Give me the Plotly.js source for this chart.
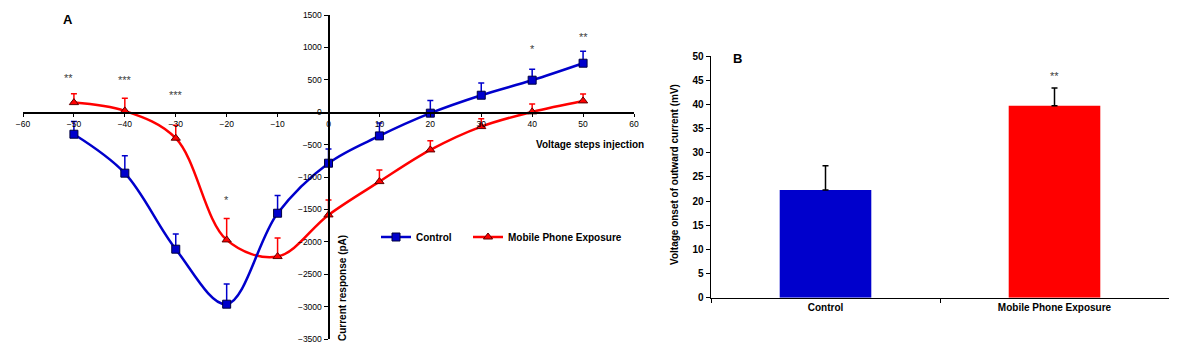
<!DOCTYPE html>
<html>
<head>
<meta charset="utf-8">
<script src="https://cdn.plot.ly/plotly-3.0.1.min.js"></script>
<style>html,body{margin:0;padding:0;background:#fff;}#chart{width:1200px;height:362px;}</style>
</head>
<body>
<div id="chart"></div>
<script>
// ---- Panel A data ----
const voltages = [-50, -40, -30, -20, -10, 0, 10, 20, 30, 40, 50];
const controlCurrent = [-340, -941, -2114, -2963, -1559, -787, -366, -15, 262, 494, 756];
const controlErr = [195, 270, 236, 310, 272, 220, 200, 195, 190, 170, 185];
const mobileCurrent = [148, 20, -401, -1971, -2228, -1585, -1071, -582, -222, 5, 174];
const mobileErr = [135, 195, 200, 330, 285, 230, 180, 140, 120, 120, 105];
const starVoltages = [-51, -40, -30, -20, 40, 50];
const starLabels = ['**', '***', '***', '*', '*', '**'];
const starHeights = [560, 530, 300, -1330, 1010, 1190];

// ---- Panel B data ----
const groups = ['Control', 'Mobile Phone Exposure'];
const onsetVoltage = [22.3, 39.7];
const onsetErr = [5.0, 3.7];
const onsetStars = ['', '**'];
const onsetStarHeights = [0, 46.2];

const BLUE = '#0000cc';
const RED = '#ff0000';
const FONT = 'Liberation Sans, Arial, sans-serif';
const zeros = voltages.map(() => 0);

const traces = [
  {
    x: voltages, y: mobileCurrent, name: 'Mobile Phone Exposure', type: 'scatter', mode: 'lines+markers',
    xaxis: 'x', yaxis: 'y', legend: 'legend2',
    line: {color: RED, width: 2.5, shape: 'spline', smoothing: 1},
    marker: {symbol: 'triangle-up', size: 8, color: RED, line: {color: '#600000', width: 1}},
    error_y: {type: 'data', symmetric: false, array: mobileErr, arrayminus: zeros,
              color: RED, thickness: 1.5, width: 3}
  },
  {
    x: voltages, y: controlCurrent, name: 'Control', type: 'scatter', mode: 'lines+markers',
    xaxis: 'x', yaxis: 'y', legend: 'legend',
    line: {color: BLUE, width: 2.5, shape: 'spline', smoothing: 1},
    marker: {symbol: 'square', size: 8, color: BLUE, line: {color: '#000040', width: 1}},
    error_y: {type: 'data', symmetric: false, array: controlErr, arrayminus: zeros,
              color: BLUE, thickness: 1.5, width: 3}
  },
  {
    x: groups, y: onsetVoltage, type: 'bar', xaxis: 'x2', yaxis: 'y2', showlegend: false,
    marker: {color: [BLUE, RED], line: {width: 0}},
    error_y: {type: 'data', symmetric: false, array: onsetErr, arrayminus: [0, 0],
              color: '#000000', thickness: 1.5, width: 3}
  }
];

const annotations = [];
starVoltages.forEach((v, i) => {
  annotations.push({x: v, y: starHeights[i], xref: 'x', yref: 'y', text: starLabels[i],
    showarrow: false, yshift: -2, font: {family: FONT, size: 11, color: '#404040'}});
});
groups.forEach((g, i) => {
  if (onsetStars[i]) annotations.push({x: g, y: onsetStarHeights[i], xref: 'x2', yref: 'y2',
    text: onsetStars[i], showarrow: false, yshift: -2, font: {family: FONT, size: 11, color: '#404040'}});
});
annotations.push(
  {text: '<b>A</b>', xref: 'paper', yref: 'paper', x: 68 / 1200, y: 1 - 20 / 362,
   xanchor: 'center', yanchor: 'middle', showarrow: false, font: {family: FONT, size: 13, color: '#000'}},
  {text: '<b>B</b>', xref: 'paper', yref: 'paper', x: 737 / 1200, y: 1 - 59 / 362,
   xanchor: 'center', yanchor: 'middle', showarrow: false, font: {family: FONT, size: 13, color: '#000'}},
  {text: '<b>Voltage steps injection</b>', xref: 'paper', yref: 'paper', x: 646 / 1200, y: 1 - 144 / 362,
   xanchor: 'right', yanchor: 'middle', showarrow: false, font: {family: FONT, size: 10, color: '#000'}},
  {text: '<b>Current response (pA)</b>', xref: 'paper', yref: 'paper', x: 342 / 1200, y: 1 - 288 / 362,
   xanchor: 'center', yanchor: 'middle', textangle: -90, showarrow: false, font: {family: FONT, size: 10, color: '#000'}},
  {text: '<b>Voltage onset of outward current (mV)</b>', xref: 'paper', yref: 'paper', x: 675 / 1200, y: 1 - 175 / 362,
   xanchor: 'center', yanchor: 'middle', textangle: -90, showarrow: false, font: {family: FONT, size: 10, color: '#000'}}
);

const legendFont = {family: FONT, size: 10, color: '#000', weight: 'bold'};
const layout = {
  width: 1200, height: 362,
  margin: {l: 0, r: 0, t: 0, b: 0},
  paper_bgcolor: '#ffffff', plot_bgcolor: 'rgba(0,0,0,0)',
  font: {family: FONT, color: '#000'},
  showlegend: true,
  bargap: 0.6,
  legend: {orientation: 'h', x: 376 / 1200, y: 1 - 237 / 362, xanchor: 'left', yanchor: 'middle',
           font: legendFont, bgcolor: 'rgba(0,0,0,0)'},
  legend2: {orientation: 'h', x: 468 / 1200, y: 1 - 237 / 362, xanchor: 'left', yanchor: 'middle',
           font: legendFont, bgcolor: 'rgba(0,0,0,0)'},
  xaxis: {domain: [23 / 1200, 634 / 1200], range: [-60, 60], dtick: 10, tick0: 0,
          anchor: 'free', position: 1 - 112.3 / 362,
          showline: true, linecolor: '#000', linewidth: 1.5, ticks: 'outside', ticklen: 3, tickcolor: '#000',
          showgrid: false, zeroline: false, tickfont: {family: FONT, size: 8.5}},
  yaxis: {domain: [23 / 362, 347 / 362], range: [-3500, 1500], dtick: 500, tick0: 0,
          anchor: 'free', position: 328.5 / 1200,
          showline: true, linecolor: '#000', linewidth: 2, ticks: 'outside', ticklen: 4, tickcolor: '#000',
          showgrid: false, zeroline: false, tickfont: {family: FONT, size: 8.5}},
  xaxis2: {domain: [711 / 1200, 1169 / 1200], anchor: 'y2', type: 'category',
           showline: true, linecolor: '#000', linewidth: 1.5, ticks: 'outside', ticklen: 4, tickson: 'boundaries',
           tickcolor: '#000', showgrid: false, zeroline: false,
           tickfont: {family: FONT, size: 10, weight: 'bold'}},
  yaxis2: {domain: [1 - 297.7 / 362, 1 - 56 / 362], range: [0, 50], dtick: 5, anchor: 'x2',
           showline: true, linecolor: '#000', linewidth: 1.5, ticks: 'outside', ticklen: 4, tickcolor: '#000',
           showgrid: false, zeroline: false, tickfont: {family: FONT, size: 10, weight: 'bold'}},
  annotations: annotations
};

Plotly.newPlot('chart', traces, layout, {displayModeBar: false, staticPlot: true});
</script>
</body>
</html>
